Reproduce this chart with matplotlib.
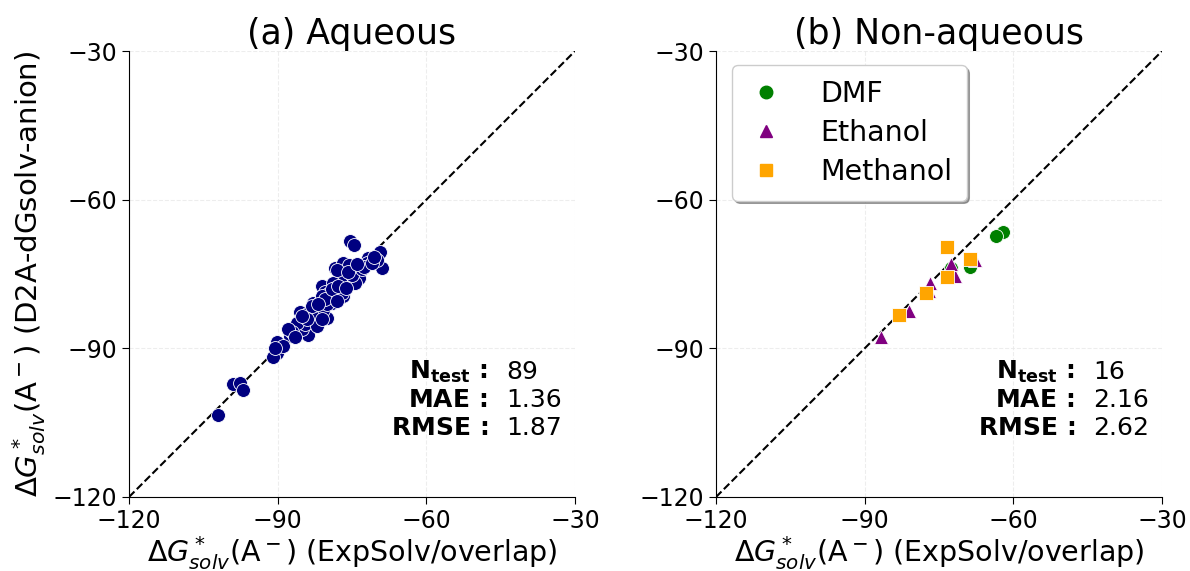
import matplotlib
matplotlib.use("Agg")
import matplotlib.pyplot as plt
from matplotlib.lines import Line2D

# ---------------- data ----------------
aq_exp = [-75.4, -74.5, -78.4, -76.8, -75.6, -73.5, -71.7, -70.7, -69.4, -69.0,
          -70.0, -72.0, -74.7, -74.1, -73.5, -74.4, -78.1, -77.4, -81.1, -80.5,
          -78.4, -76.8, -77.4, -76.8, -79.1, -78.4, -82.8, -82.5, -81.8, -83.5,
          -85.5, -81.5, -82.5, -80.1, -82.8, -83.8, -84.8, -85.5, -86.2, -86.8,
          -86.5, -87.5, -83.8, -90.2, -90.2, -91.0, -99.0, -97.7, -96.9, -102.0,
          -78.8, -78.4, -77.1, -79.4, -81.5, -82.1, -80.8, -75.1, -78.1, -84.0,
          -83.0, -80.0, -79.8, -81.0, -85.0, -84.5, -82.0, -86.0, -87.2, -80.5,
          -79.0, -77.8, -76.2, -75.8, -73.0, -72.5, -71.0, -70.5, -74.0, -83.0,
          -81.8, -84.0, -88.0, -89.0, -90.5, -85.0, -78.0, -81.0, -86.5]
aq_pred = [-68.3, -69.1, -73.8, -72.7, -73.2, -73.2, -71.8, -72.5, -70.5, -73.7,
           -72.2, -72.8, -75.2, -76.2, -75.9, -76.9, -76.7, -76.4, -77.4, -78.6,
           -78.2, -78.2, -79.2, -79.4, -80.9, -80.2, -80.9, -81.7, -82.3, -82.6,
           -82.6, -83.6, -84.1, -83.9, -84.9, -85.6, -84.6, -84.3, -85.6, -86.3,
           -87.3, -87.6, -87.3, -88.7, -90.9, -91.7, -97.1, -96.9, -98.4, -103.4,
           -76.9, -77.9, -78.9, -79.6, -80.6, -82.9, -82.3, -75.2, -74.2, -83.0,
           -83.5, -81.0, -79.0, -79.5, -86.0, -85.0, -85.5, -84.8, -86.8, -80.0,
           -78.0, -77.5, -77.8, -74.5, -74.0, -73.5, -72.8, -71.5, -73.0, -81.5,
           -81.0, -84.0, -86.0, -89.5, -90.0, -83.5, -80.5, -84.0, -87.8]

dmf_exp = [-62.1, -63.6, -72.6, -68.7]
dmf_pred = [-66.5, -67.4, -73.8, -73.5]
eth_exp = [-86.8, -81.0, -77.0, -76.8, -71.8, -67.7, -72.5]
eth_pred = [-87.8, -82.4, -78.4, -76.8, -75.4, -72.2, -73.0]
meth_exp = [-73.4, -68.7, -73.3, -77.7, -83.1]
meth_pred = [-69.5, -72.0, -75.5, -78.8, -83.3]

ticks = [-120, -90, -60, -30]
stats_a = {"n": "89", "mae": "1.36", "rmse": "1.87"}
stats_b = {"n": "16", "mae": "2.16", "rmse": "2.62"}

# ---------------- figure ----------------
fig = plt.figure(figsize=(11.9, 5.71), dpi=100)
axA = fig.add_axes([0.1084, 0.1296, 0.3748, 0.781])
axB = fig.add_axes([0.6017, 0.1296, 0.3748, 0.781])

xlabel = r"$\Delta G^*_{solv}$(A$^-$) (ExpSolv/overlap)"
ylabel = r"$\Delta G^*_{solv}$(A$^-$) (D2A-dGsolv-anion)"


def style(ax, title):
    ax.set_xlim(-120, -30)
    ax.set_ylim(-120, -30)
    ax.set_xticks(ticks)
    ax.set_yticks(ticks)
    ax.tick_params(labelsize=17, length=5)
    ax.grid(True, color="#e6e6e6", linewidth=0.8, linestyle="--", alpha=0.7)
    ax.set_axisbelow(True)
    for s in ["top", "right"]:
        ax.spines[s].set_visible(False)
    ax.plot([-120, -30], [-120, -30], ls="--", color="black", lw=1.5, zorder=3)
    ax.set_title(title, fontsize=25, pad=5)
    ax.set_xlabel(xlabel, fontsize=20.5, labelpad=1)


def stats(ax, st):
    xl, xv = -47.6, -43.9
    rows = [(r"$\mathbf{N_{test}\,:}$", st["n"], -94.7),
            (r"$\mathbf{MAE\,:}$", st["mae"], -100.4),
            (r"$\mathbf{RMSE\,:}$", st["rmse"], -106.1)]
    for lab, val, y in rows:
        ax.text(xl, y, lab, fontsize=18, ha="right", va="center")
        ax.text(xv, y, val, fontsize=18, ha="left", va="center")


style(axA, "(a) Aqueous")
axA.scatter(aq_exp, aq_pred, s=100, color="navy", edgecolor="white", linewidth=0.6, zorder=4)
axA.set_ylabel(ylabel, fontsize=21, labelpad=3)
stats(axA, stats_a)

style(axB, "(b) Non-aqueous")
axB.scatter(dmf_exp, dmf_pred, s=100, marker="o", color="green", edgecolor="white", linewidth=0.6, zorder=4, label="DMF")
axB.scatter(eth_exp, eth_pred, s=100, marker="^", color="purple", edgecolor="white", linewidth=0.6, zorder=4, label="Ethanol")
axB.scatter(meth_exp, meth_pred, s=100, marker="s", color="orange", edgecolor="white", linewidth=0.6, zorder=4, label="Methanol")
stats(axB, stats_b)

handles = [Line2D([], [], marker="o", color="green", ls="", markersize=9),
           Line2D([], [], marker="^", color="purple", ls="", markersize=9),
           Line2D([], [], marker="s", color="orange", ls="", markersize=9)]
axB.legend(handles, ["DMF", "Ethanol", "Methanol"], loc="upper left",
           fontsize=20.5, shadow=True, fancybox=True, framealpha=1,
           handlelength=1.4, handletextpad=1.2, borderpad=0.5, labelspacing=0.4,
           bbox_to_anchor=(0.004, 1.0))

fig.savefig("out.png", dpi=100)
